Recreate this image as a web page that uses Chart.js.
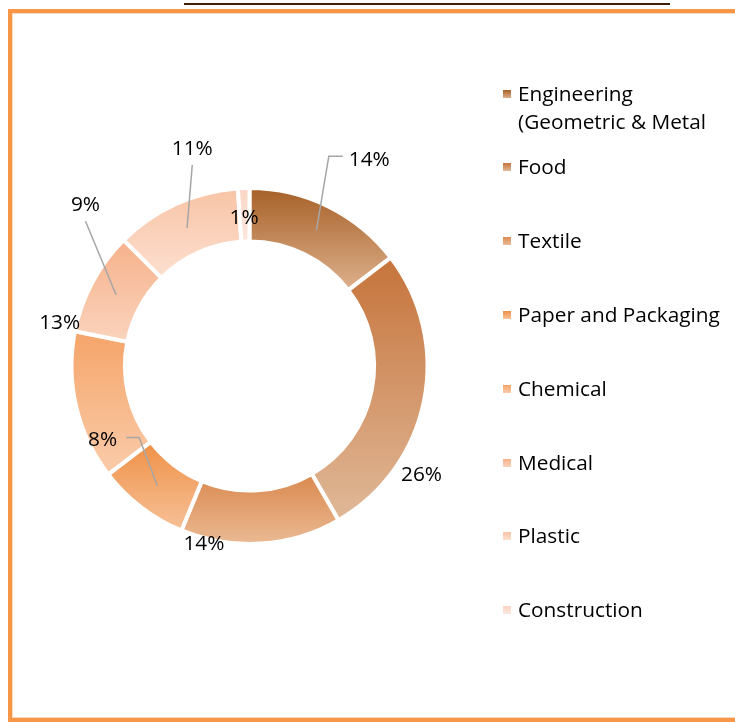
<!DOCTYPE html>
<html>
<head>
<meta charset="utf-8">
<script src="https://cdn.jsdelivr.net/npm/chart.js@4.4.1/dist/chart.umd.min.js"></script>
<style>
  html, body { margin: 0; padding: 0; background: #fff; overflow: hidden; }
  body { width: 735px; height: 723px; position: relative; font-family: "Open Sans", sans-serif; }
  #frame { position: absolute; left: 8px; top: 9px; width: 760px; height: 705px;
           border: 4px solid #F79646; box-shadow: inset 0 0 0 1px #fcd8bb; }
  #titleLine { position: absolute; left: 184px; top: 3px; width: 486px; height: 2px; background: #40200a; }
  #chart { position: absolute; left: 0; top: 0; }
  #legend { position: absolute; left: 0; top: 0; width: 735px; height: 723px; }
  .item { position: absolute; left: 518px; font-size: 20.8px; line-height: 28px; color: #000; white-space: pre; }
  .box { position: absolute; left: 503px; width: 8px; height: 8px; }
</style>
</head>
<body>
<div id="frame"></div>
<div id="titleLine"></div>
<canvas id="chart" width="735" height="723"></canvas>
<div id="legend"></div>
<script>
// kategori dan nilai (persen)
var sectors = ["Engineering\n(Geometric & Metal", "Food", "Textile", "Paper and Packaging",
               "Chemical", "Medical", "Plastic", "Construction"];
var shares = [14, 26, 14, 8, 13, 9, 11, 1];

// warna gradasi tiap potongan (atas -> bawah)
var topColors = ["#A65F26", "#C6733A", "#DA8A50", "#EF9147", "#F5A469", "#F6B18A", "#F8C3A4", "#FAD5C3"];
var bottomColors = ["#DDB08C", "#E0B999", "#EBBB95", "#F7C29A", "#FACCAB", "#FAD3BC", "#FCDFCF", "#FDE7DD"];

// posisi label: sudut (derajat dari atas), jarak relatif jari-jari luar, jenis garis penunjuk
var labelPos = [
  { a: 30.1, k: 1.342, lead: "left" },
  { a: 122.1, k: 1.141, lead: null },
  { a: 194.4, k: 1.029, lead: null },
  { a: 243.4, k: 0.923, lead: "right" },
  { a: 282.9, k: 1.094, lead: null },
  { a: 314.6, k: 1.294, lead: "below" },
  { a: 345.3, k: 1.267, lead: "below" },
  { a: 357.9, k: 0.839, lead: null }
];

var cutoutRatio = 0.70;
var total = shares.reduce(function (s, v) { return s + v; }, 0);

// gradient vertikal sesuai kotak batas tiap potongan
function segGradient(context) {
  var chart = context.chart, i = context.dataIndex, area = chart.chartArea;
  if (!area || i === undefined) return topColors[i || 0];
  var cx = (area.left + area.right) / 2, cy = (area.top + area.bottom) / 2;
  var R = Math.min(area.right - area.left, area.bottom - area.top) / 2;
  var r = R * cutoutRatio;
  var before = 0;
  for (var j = 0; j < i; j++) before += shares[j];
  var a0 = -Math.PI / 2 + 2 * Math.PI * before / total;
  var a1 = a0 + 2 * Math.PI * shares[i] / total;
  var ys = [cy + R * Math.sin(a0), cy + r * Math.sin(a0), cy + R * Math.sin(a1), cy + r * Math.sin(a1)];
  [-Math.PI / 2, Math.PI / 2, 3 * Math.PI / 2].forEach(function (k) {
    if (k >= a0 && k <= a1) ys.push(cy + R * Math.sin(k));
  });
  var y0 = Math.min.apply(null, ys), y1 = Math.max.apply(null, ys);
  var g = chart.ctx.createLinearGradient(0, y0, 0, y1);
  g.addColorStop(0, topColors[i]);
  g.addColorStop(1, bottomColors[i]);
  return g;
}

// plugin label persen + garis penunjuk
var pctLabels = {
  id: "pctLabels",
  afterDatasetsDraw: function (chart) {
    var c = chart.ctx;
    var arcs = chart.getDatasetMeta(0).data;
    c.save();
    c.font = "20.8px 'Open Sans'";
    c.textAlign = "center";
    c.textBaseline = "middle";
    arcs.forEach(function (arc, i) {
      var p = labelPos[i];
      var ang = (p.a - 90) * Math.PI / 180;
      var tx = arc.x + arc.outerRadius * p.k * Math.cos(ang);
      var ty = arc.y + arc.outerRadius * p.k * Math.sin(ang);
      var text = shares[i] + "%";
      var w = c.measureText(text).width;
      if (p.lead) {
        var mid = (arc.startAngle + arc.endAngle) / 2;
        var mr = (arc.innerRadius + arc.outerRadius) / 2;
        var sx = arc.x + mr * Math.cos(mid), sy = arc.y + mr * Math.sin(mid);
        c.strokeStyle = "#A6A6A6";
        c.lineWidth = 1.5;
        c.beginPath();
        c.moveTo(sx, sy);
        if (p.lead === "left") {
          c.lineTo(tx - w / 2 - 20, ty - 3);
          c.lineTo(tx - w / 2 - 6, ty - 3);
        } else if (p.lead === "right") {
          c.lineTo(tx + w / 2 + 22, ty - 2);
          c.lineTo(tx + w / 2 + 9, ty - 2);
        } else {
          c.lineTo(tx, ty + 17);
        }
        c.stroke();
      }
      c.fillStyle = "#000";
      c.fillText(text, tx, ty + 1);
    });
    c.restore();
  }
};

new Chart(document.getElementById("chart").getContext("2d"), {
  type: "doughnut",
  data: {
    labels: sectors,
    datasets: [{
      data: shares,
      backgroundColor: segGradient,
      borderColor: "#ffffff",
      borderWidth: 4
    }]
  },
  options: {
    responsive: false,
    animation: false,
    cutout: (cutoutRatio * 100) + "%",
    layout: { padding: { left: 69.5, right: 305.5, top: 186, bottom: 177 } },
    plugins: {
      legend: { display: false },
      tooltip: { enabled: false }
    }
  },
  plugins: [pctLabels]
});

// legenda HTML
var legend = document.getElementById("legend");
sectors.forEach(function (name, i) {
  var capY = 93.5 + 73.8 * i;
  var box = document.createElement("div");
  box.className = "box";
  box.style.top = (capY - 4) + "px";
  box.style.background = "linear-gradient(" + topColors[i] + ", " + bottomColors[i] + ")";
  legend.appendChild(box);
  var item = document.createElement("div");
  item.className = "item";
  item.style.top = (capY - 15) + "px";
  item.textContent = name;
  legend.appendChild(item);
});
</script>
</body>
</html>
